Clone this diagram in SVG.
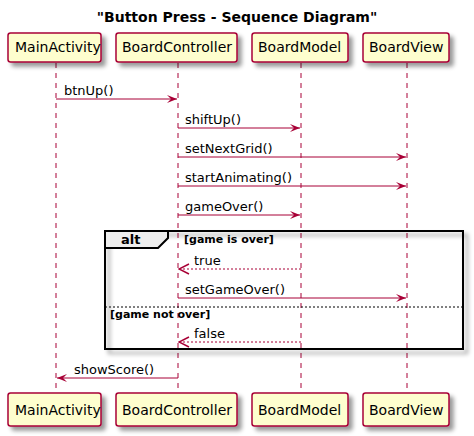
<svg xmlns="http://www.w3.org/2000/svg" width="474" height="436" viewBox="0 0 474 436">
<defs>
<filter id="sh" x="-1" y="-1" width="300%" height="300%"><feGaussianBlur result="b" stdDeviation="2"/><feColorMatrix in="b" result="c" type="matrix" values="0 0 0 0 0 0 0 0 0 0 0 0 0 0 0 0 0 0 .4 0"/><feOffset dx="4" dy="4" in="c" result="o"/><feBlend in="SourceGraphic" in2="o" mode="normal"/></filter>
<marker id="ah" viewBox="0 0 10 8" refX="10" refY="4" markerWidth="10" markerHeight="8" markerUnits="userSpaceOnUse" orient="auto"><polygon points="0,0 10,4 0,8 4,4" fill="#A80036"/></marker>
<marker id="oh" viewBox="-1 -1 12 12" refX="10" refY="5" markerWidth="12" markerHeight="12" markerUnits="userSpaceOnUse" orient="auto"><polyline points="0,0 10,5 0,10" fill="none" stroke="#A80036" stroke-width="1.5"/></marker>
</defs>
<style>
.box{fill:#FEFECE;stroke:#A80036;stroke-width:1.5}
.life{stroke:#A80036;stroke-width:1;stroke-dasharray:5,5}
.msg{stroke:#A80036;stroke-width:1;fill:none;marker-end:url(#ah)}
.ret{stroke:#A80036;stroke-width:1;fill:none;stroke-dasharray:2,2;marker-end:url(#oh)}
.pt{font-family:"DejaVu Sans",sans-serif;font-size:14px;fill:#000}
.mt{font-family:"DejaVu Sans",sans-serif;font-size:13px;fill:#000}
.gt{font-family:"DejaVu Sans",sans-serif;font-size:11px;font-weight:bold;fill:#000}
</style>
<rect width="474" height="436" fill="#FFFFFF"/>
<text x="237" y="22" text-anchor="middle" font-family="DejaVu Sans,sans-serif" font-size="14" font-weight="bold">"Button Press - Sequence Diagram"</text>
<g id="lifelines">
<line class="life" x1="56" y1="63" x2="56" y2="393"/>
<line class="life" x1="178" y1="63" x2="178" y2="393"/>
<line class="life" x1="301" y1="63" x2="301" y2="393"/>
<line class="life" x1="407" y1="63" x2="407" y2="393"/>
</g>
<g id="alt">
<rect x="105" y="231" width="358" height="118" fill="none" stroke="#000" stroke-width="2" filter="url(#sh)"/>
<polygon points="105,231 168,231 168,238 158,248 105,248" fill="#EEEEEE" stroke="#000" stroke-width="2"/>
<text x="121" y="244" font-family="DejaVu Sans,sans-serif" font-size="13" font-weight="bold">alt</text>
<text class="gt" x="184" y="243">[game is over]</text>
<line x1="105" y1="307" x2="463" y2="307" stroke="#000" stroke-width="1" stroke-dasharray="2,2"/>
<text class="gt" x="110" y="318">[game not over]</text>
</g>
<g id="MainActivity">
<rect class="box" x="8" y="33" width="93" height="29" rx="2.5" filter="url(#sh)"/>
<text class="pt" x="15" y="52">MainActivity</text>
<rect class="box" x="8" y="393" width="93" height="33" rx="2.5" filter="url(#sh)"/>
<text class="pt" x="15" y="415">MainActivity</text>
</g>
<g id="BoardController">
<rect class="box" x="116" y="33" width="121" height="29" rx="2.5" filter="url(#sh)"/>
<text class="pt" x="122" y="52">BoardController</text>
<rect class="box" x="116" y="393" width="121" height="33" rx="2.5" filter="url(#sh)"/>
<text class="pt" x="122" y="415">BoardController</text>
</g>
<g id="BoardModel">
<rect class="box" x="252" y="33" width="96" height="29" rx="2.5" filter="url(#sh)"/>
<text class="pt" x="258" y="52">BoardModel</text>
<rect class="box" x="252" y="393" width="96" height="33" rx="2.5" filter="url(#sh)"/>
<text class="pt" x="258" y="415">BoardModel</text>
</g>
<g id="BoardView">
<rect class="box" x="363" y="33" width="86" height="29" rx="2.5" filter="url(#sh)"/>
<text class="pt" x="369" y="52">BoardView</text>
<rect class="box" x="363" y="393" width="86" height="33" rx="2.5" filter="url(#sh)"/>
<text class="pt" x="369" y="415">BoardView</text>
</g>
<g id="connectors">
<line class="msg" x1="56" y1="99" x2="177" y2="99"/>
<text class="mt" x="64" y="95">btnUp()</text>
<line class="msg" x1="178" y1="128" x2="300" y2="128"/>
<text class="mt" x="185" y="124">shiftUp()</text>
<line class="msg" x1="178" y1="157" x2="406" y2="157"/>
<text class="mt" x="185" y="153">setNextGrid()</text>
<line class="msg" x1="178" y1="186" x2="406" y2="186"/>
<text class="mt" x="185" y="182">startAnimating()</text>
<line class="msg" x1="178" y1="215" x2="300" y2="215"/>
<text class="mt" x="185" y="211">gameOver()</text>
<line class="ret" x1="301" y1="269" x2="179" y2="269"/>
<text class="mt" x="194" y="265">true</text>
<line class="msg" x1="178" y1="298" x2="406" y2="298"/>
<text class="mt" x="185" y="294">setGameOver()</text>
<line class="ret" x1="301" y1="342" x2="179" y2="342"/>
<text class="mt" x="194" y="338">false</text>
<line class="msg" x1="178" y1="378" x2="57" y2="378"/>
<text class="mt" x="74" y="374">showScore()</text>
</g>
</svg>
